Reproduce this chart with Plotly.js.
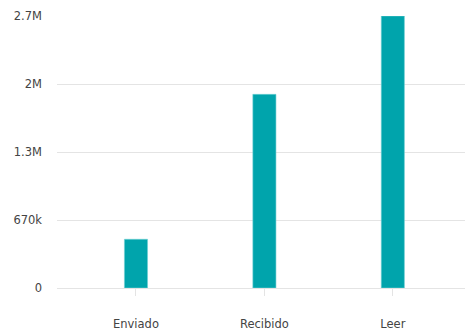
<!DOCTYPE html>
<html>
<head>
<meta charset="utf-8">
<script src="https://cdn.plot.ly/plotly-3.0.1.min.js"></script>
<style>
  html, body { margin: 0; padding: 0; background: #ffffff; }
  #chart { width: 466px; height: 333px; }
</style>
</head>
<body>
<div id="chart"></div>
<script>
// Message counts by status
const categories = ['Enviado', 'Recibido', 'Leer'];
const counts = [480000, 1908000, 2680000];

// Value axis ticks
const yTickVals = [0, 670000, 1340000, 2010000, 2680000];
const yTickText = ['0', '670k', '1.3M', '2M', '2.7M'];

const barColor = '#00A4AC';
const textColor = '#444444';
const gridColor = '#e4e4e4';

const trace = {
  type: 'bar',
  x: categories,
  y: counts,
  width: 0.18,
  marker: { color: barColor, line: { color: '#6fd0d4', width: 0.6 } },
  hoverinfo: 'x+y'
};

const layout = {
  width: 466,
  height: 333,
  margin: { l: 57, r: 1, t: 16, b: 45 },
  paper_bgcolor: '#ffffff',
  plot_bgcolor: '#ffffff',
  showlegend: false,
  font: { family: 'DejaVu Sans, sans-serif', size: 11.5, color: textColor },
  xaxis: {
    type: 'category',
    range: [-0.615, 2.562],
    showgrid: false,
    showline: false,
    zeroline: false,
    ticks: 'outside',
    ticklen: 7,
    tickwidth: 1,
    tickcolor: gridColor,
    ticklabelstandoff: 18,
    tickfont: { size: 11.5, color: textColor }
  },
  yaxis: {
    range: [0, 2680000],
    tickvals: yTickVals,
    ticktext: yTickText,
    showgrid: true,
    gridcolor: gridColor,
    gridwidth: 1,
    zeroline: true,
    zerolinecolor: gridColor,
    zerolinewidth: 1,
    showline: false,
    ticks: '',
    ticklabelstandoff: 14,
    tickfont: { size: 11.5, color: textColor }
  }
};

Plotly.newPlot('chart', [trace], layout, { displayModeBar: false, staticPlot: true });
</script>
</body>
</html>
